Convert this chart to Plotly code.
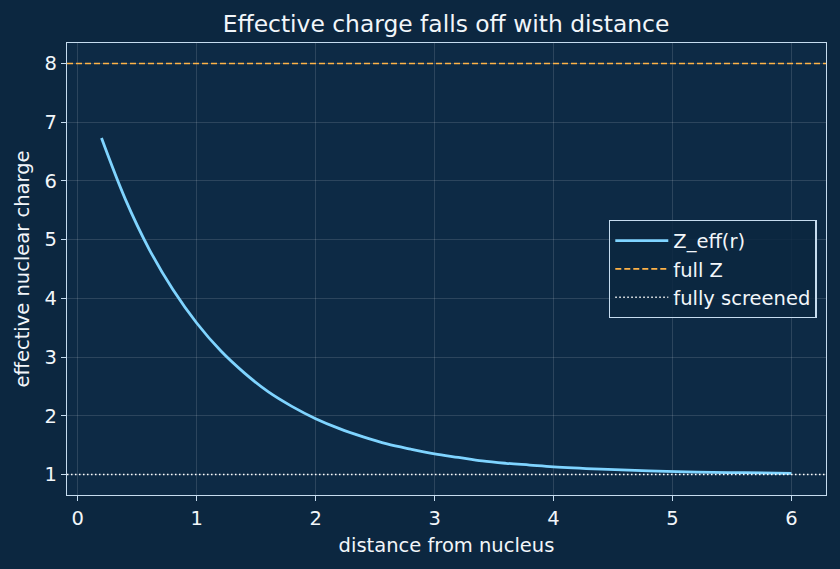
import plotly.graph_objects as go

r = [0.2, 0.4, 0.6, 0.8, 1.0, 1.2, 1.4, 1.6, 1.8, 2.0, 2.2, 2.4, 2.6, 2.8, 3.0,
     3.2, 3.4, 3.6, 3.8, 4.0, 4.4, 4.8, 5.2, 5.6, 6.0]
z_eff = [6.73, 5.69, 4.84, 4.15, 3.58, 3.11, 2.73, 2.41, 2.16, 1.95, 1.78, 1.64,
         1.52, 1.43, 1.35, 1.29, 1.23, 1.19, 1.16, 1.13, 1.09, 1.06, 1.04, 1.03, 1.02]
full_z = 8
screened = 1
x_range = [-0.09, 6.29]
y_range = [0.65, 8.35]
x_ticks = [0, 1, 2, 3, 4, 5, 6]
y_ticks = [1, 2, 3, 4, 5, 6, 7, 8]

BG = "#0c2740"
PLOT_BG = "#0d2a45"
SPINE = "#c6dcef"
TXT = "#f2f6fa"
FONT = "DejaVu Sans"

fig = go.Figure()
fig.add_trace(go.Scatter(x=r, y=z_eff, mode="lines", name="Z_eff(r)",
                         line=dict(color="#7fd4ff", width=2.8, shape="spline")))
fig.add_trace(go.Scatter(x=x_range, y=[full_z, full_z], mode="lines", name="full Z",
                         line=dict(color="#ffb347", width=1.6, dash="6px,3px")))
fig.add_trace(go.Scatter(x=x_range, y=[screened, screened], mode="lines", name="fully screened",
                         line=dict(color="#ffffff", width=1.4, dash="1.5px,2.5px")))

axis_common = dict(showline=True, linecolor=SPINE, linewidth=1.4, mirror=True,
                   ticks="outside", ticklen=5, tickwidth=1.3, tickcolor=SPINE,
                   showgrid=True, gridcolor="rgba(255,255,255,0.13)", gridwidth=0.8,
                   zeroline=False, tickfont=dict(family=FONT, size=19.5, color=TXT),
                   title_font=dict(family=FONT, size=19.5, color=TXT))

fig.update_xaxes(range=x_range, tickvals=x_ticks, title_text="distance from nucleus",
                 title_standoff=9, **axis_common)
fig.update_yaxes(range=y_range, tickvals=y_ticks, title_text="effective nuclear charge",
                 title_standoff=9, **axis_common)

fig.update_layout(
    width=840, height=569,
    paper_bgcolor=BG, plot_bgcolor=PLOT_BG,
    margin=dict(l=67, r=14, t=43, b=74),
    title=dict(text="Effective charge falls off with distance", x=0.531, xanchor="center",
               y=0.958, yanchor="middle",
               font=dict(family=FONT, size=23.4, color=TXT)),
    legend=dict(x=0.988, xanchor="right", y=0.5, yanchor="middle",
                bgcolor="rgba(12,39,64,0.85)", bordercolor=SPINE, borderwidth=1.4,
                itemwidth=53,
                font=dict(family=FONT, size=19.5, color=TXT), tracegroupgap=0),
    showlegend=True,
)

fig.write_html("out.html")
